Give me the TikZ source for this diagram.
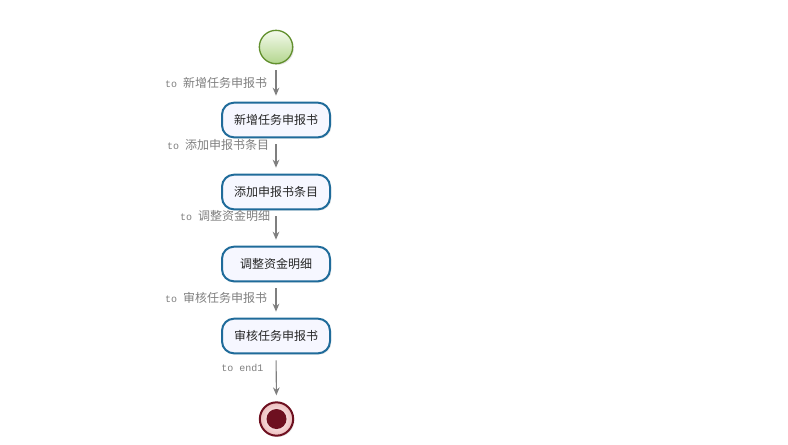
\documentclass[tikz,border=0pt]{standalone}
\usepackage{fontspec}
\setmonofont{Liberation Mono}
\newfontfamily\cjk{Noto Sans CJK SC}
\usetikzlibrary{arrows.meta, shadows}

\definecolor{taskblue}{HTML}{1F6B9A}
\definecolor{taskfill}{HTML}{F6F7FF}
\definecolor{flowgray}{HTML}{7F7F7F}
\definecolor{startline}{HTML}{62902E}
\definecolor{starttop}{HTML}{F4FAEC}
\definecolor{startbottom}{HTML}{B3D68E}
\definecolor{endline}{HTML}{6E1020}
\definecolor{endring}{HTML}{EDBDBD}

% Chinese text inside the monospaced flow labels
\newcommand{\cnlabel}[1]{{\cjk\fontsize{9}{11}\selectfont #1}}

\begin{document}
\begin{tikzpicture}[x=0.75pt, y=-0.75pt,
    task/.style = {draw=taskblue, line width=1.5pt, fill=taskfill,
      rounded corners=9pt, minimum width=81pt, minimum height=26pt,
      text=black!85, font=\cjk\fontsize{9}{11}\selectfont,
      drop shadow={opacity=0.15, shadow xshift=1pt, shadow yshift=-1pt}},
    flow/.style = {draw=flowgray, line width=0.8pt,
      shorten <=4.5pt, shorten >=4.5pt,
      -{Stealth[length=6pt, width=5pt]}},
    flowlabel/.style = {anchor=east, inner sep=1pt, text=flowgray,
      font=\fontsize{7.5}{9}\ttfamily}]

  % Keep the canvas as large as the screenshot

  \useasboundingbox (0,0) rectangle (788,444);

  % Start event, the four tasks and the end event

  \node[circle, minimum size=25pt, draw=startline, line width=1pt,
    top color=starttop, bottom color=startbottom,
    drop shadow={opacity=0.2, shadow xshift=1pt, shadow yshift=-1pt}]
    (start) at (276, 47) {};

  \node[task] (newreport) at (276, 120) {新增任务申报书};
  \node[task] (addentry)  at (276, 192) {添加申报书条目};
  \node[task] (adjust)    at (276, 264) {调整资金明细};
  \node[task] (review)    at (276, 336) {审核任务申报书};

  \node[circle, minimum size=25pt, draw=endline, line width=1.5pt,
    inner color=white, outer color=endring,
    drop shadow={opacity=0.2, shadow xshift=1pt, shadow yshift=-1pt}]
    (end1) at (276.5, 419) {};
  \fill[endline] (end1) circle (7.5pt);

  % Sequence flows with their labels
  %   (from / to / position of the label / shift / label text)

  \foreach \from/\to/\where/\shift/\text in {
      start/newreport/0.5/-7/{to \cnlabel{新增任务申报书}},
      newreport/addentry/0.19/-5/{to \cnlabel{添加申报书条目}},
      addentry/adjust/0.16/-4/{to \cnlabel{调整资金明细}},
      adjust/review/0.43/-7/{to \cnlabel{审核任务申报书}},
      review/end1/0.29/-11/{to end1}}
    \draw[flow] (\from) -- (\to)
      node[flowlabel, pos=\where, xshift=\shift*0.75pt] {\text};

\end{tikzpicture}
\end{document}
